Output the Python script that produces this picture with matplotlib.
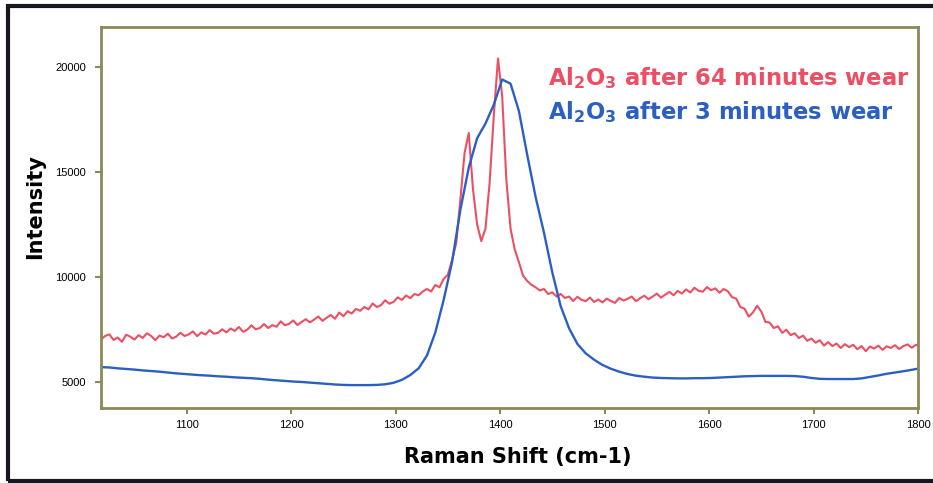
import numpy as np
import matplotlib
matplotlib.use("Agg")
import matplotlib.pyplot as plt
from matplotlib.patches import Rectangle

plt.rcParams["mathtext.default"] = "bf"
plt.rcParams["mathtext.fontset"] = "dejavusans"

# Raman shift grids (cm-1)
shift_64min = np.arange(1018, 1803, 4)
shift_3min = np.arange(1018, 1803, 8)

# Intensity after 64 minutes of wear (noisy spectrum, step 4 cm-1)
intensity_64min = [
    7020, 7180, 7260, 6990, 7110, 6900, 7240, 7150, 7010, 7220,
    7090, 7310, 7180, 6980, 7200, 7120, 7290, 7060, 7150, 7330,
    7180, 7260, 7400, 7170, 7350, 7250, 7460, 7290, 7330, 7500,
    7350, 7540, 7420, 7610, 7380, 7480, 7690, 7500, 7560, 7750,
    7560, 7700, 7620, 7880, 7690, 7760, 7920, 7700, 7850, 7980,
    7830, 7960, 8110, 7900, 8050, 8180, 8000, 8300, 8120, 8360,
    8250, 8470, 8380, 8560, 8450, 8730, 8560, 8650, 8880, 8720,
    8800, 9020, 8900, 9110, 8980, 9180, 9120, 9300, 9420, 9300,
    9610, 9500, 9900, 10100, 10800, 11600, 13700, 15900, 16850, 14200,
    12500, 11700, 12300, 14500, 17700, 20400, 18600, 14600, 12300, 11300,
    10700, 10050, 9800, 9620, 9500, 9350, 9420, 9180, 9260, 9060,
    9180, 8990, 9060, 8850, 9050, 8900, 8840, 9010, 8800, 8920,
    8780, 8960, 8850, 8760, 8990, 8870, 8950, 9060, 8840, 8980,
    9100, 8930, 9060, 9200, 9010, 9150, 9280, 9120, 9330, 9200,
    9400, 9250, 9480, 9330, 9290, 9510, 9360, 9450, 9240, 9420,
    9310, 9030, 8960, 8560, 8480, 8100, 8300, 8620, 8350, 7850,
    7820, 7560, 7640, 7330, 7480, 7220, 7310, 7080, 7200, 6950,
    7060, 6860, 6980, 6720, 6890, 6700, 6820, 6610, 6790, 6650,
    6760, 6550, 6700, 6460, 6680, 6580, 6720, 6520, 6690, 6610,
    6740, 6560, 6700, 6780, 6620, 6760, 6680,
]

# Intensity after 3 minutes of wear (step 8 cm-1)
intensity_3min = [
    5700, 5680, 5640, 5610, 5580, 5540, 5510, 5480, 5440, 5400,
    5370, 5340, 5310, 5290, 5260, 5240, 5210, 5190, 5170, 5140,
    5100, 5070, 5040, 5010, 4990, 4960, 4930, 4900, 4870, 4850,
    4840, 4840, 4840, 4850, 4880, 4950, 5090, 5320, 5640, 6250,
    7350, 8900, 10700, 13200, 15200, 16600, 17300, 18200, 19400, 19200,
    17900, 15800, 13800, 12100, 10200, 8600, 7550, 6800, 6350, 6050,
    5800, 5620, 5480, 5370, 5290, 5240, 5200, 5180, 5170, 5160,
    5160, 5170, 5170, 5180, 5200, 5220, 5240, 5260, 5270, 5280,
    5280, 5280, 5280, 5270, 5240, 5180, 5140, 5130, 5130, 5130,
    5130, 5160, 5230, 5300, 5380, 5440, 5500, 5570, 5640,
]

x_ticks = [1100, 1200, 1300, 1400, 1500, 1600, 1700, 1800]
y_ticks = [5000, 10000, 15000, 20000]
label_64min = "Al$_2$O$_3$ after 64 minutes wear"
label_3min = "Al$_2$O$_3$ after 3 minutes wear"

RED = "#ec4f63"
BLUE = "#2b5fc2"
FRAME = "#8a8a58"

W, H = 933, 483
fig = plt.figure(figsize=(W / 100, H / 100), dpi=100)
fig.patch.set_facecolor("white")

ax = fig.add_axes([101 / W, 1 - 408 / H, (918 - 101) / W, (408 - 27) / H])
ax.plot(shift_64min, intensity_64min, color=RED, lw=1.5)
ax.plot(shift_3min, intensity_3min, color=BLUE, lw=1.7)

ax.set_xlim(1018, 1800)
ax.set_ylim(3750, 21900)
ax.set_xticks(x_ticks)
ax.set_yticks(y_ticks)
for s in ax.spines.values():
    s.set_color(FRAME)
    s.set_linewidth(2.0)
ax.tick_params(direction="out", length=4, width=1.5, color=FRAME,
               labelsize=8, labelcolor="black")
ax.tick_params(axis="x", pad=5)
ax.tick_params(axis="y", pad=7)
for lbl in ax.get_xticklabels() + ax.get_yticklabels():
    lbl.set_fontfamily("Liberation Sans")

fig.text(35 / W, 1 - 207 / H, "Intensity", rotation=90, ha="center",
         va="center", fontsize=15, fontweight="bold", color="black")
fig.text(518 / W, 1 - 457 / H, "Raman Shift (cm-1)", ha="center",
         va="center", fontsize=15, fontweight="bold", color="black")

fig.text(548 / W, 1 - 78 / H, label_64min, ha="left", va="center",
         fontsize=16.3, fontweight="bold", color=RED)
fig.text(548 / W, 1 - 112 / H, label_3min, ha="left", va="center",
         fontsize=16.3, fontweight="bold", color=BLUE)

# outer dark frame, open on the right edge
fig.patches.append(Rectangle((8 / W, 2.5 / H), 1.2, 1 - 8.5 / H,
                             transform=fig.transFigure, fill=False,
                             edgecolor="#1b1520", lw=3.0))

fig.savefig("out.png", dpi=100)
